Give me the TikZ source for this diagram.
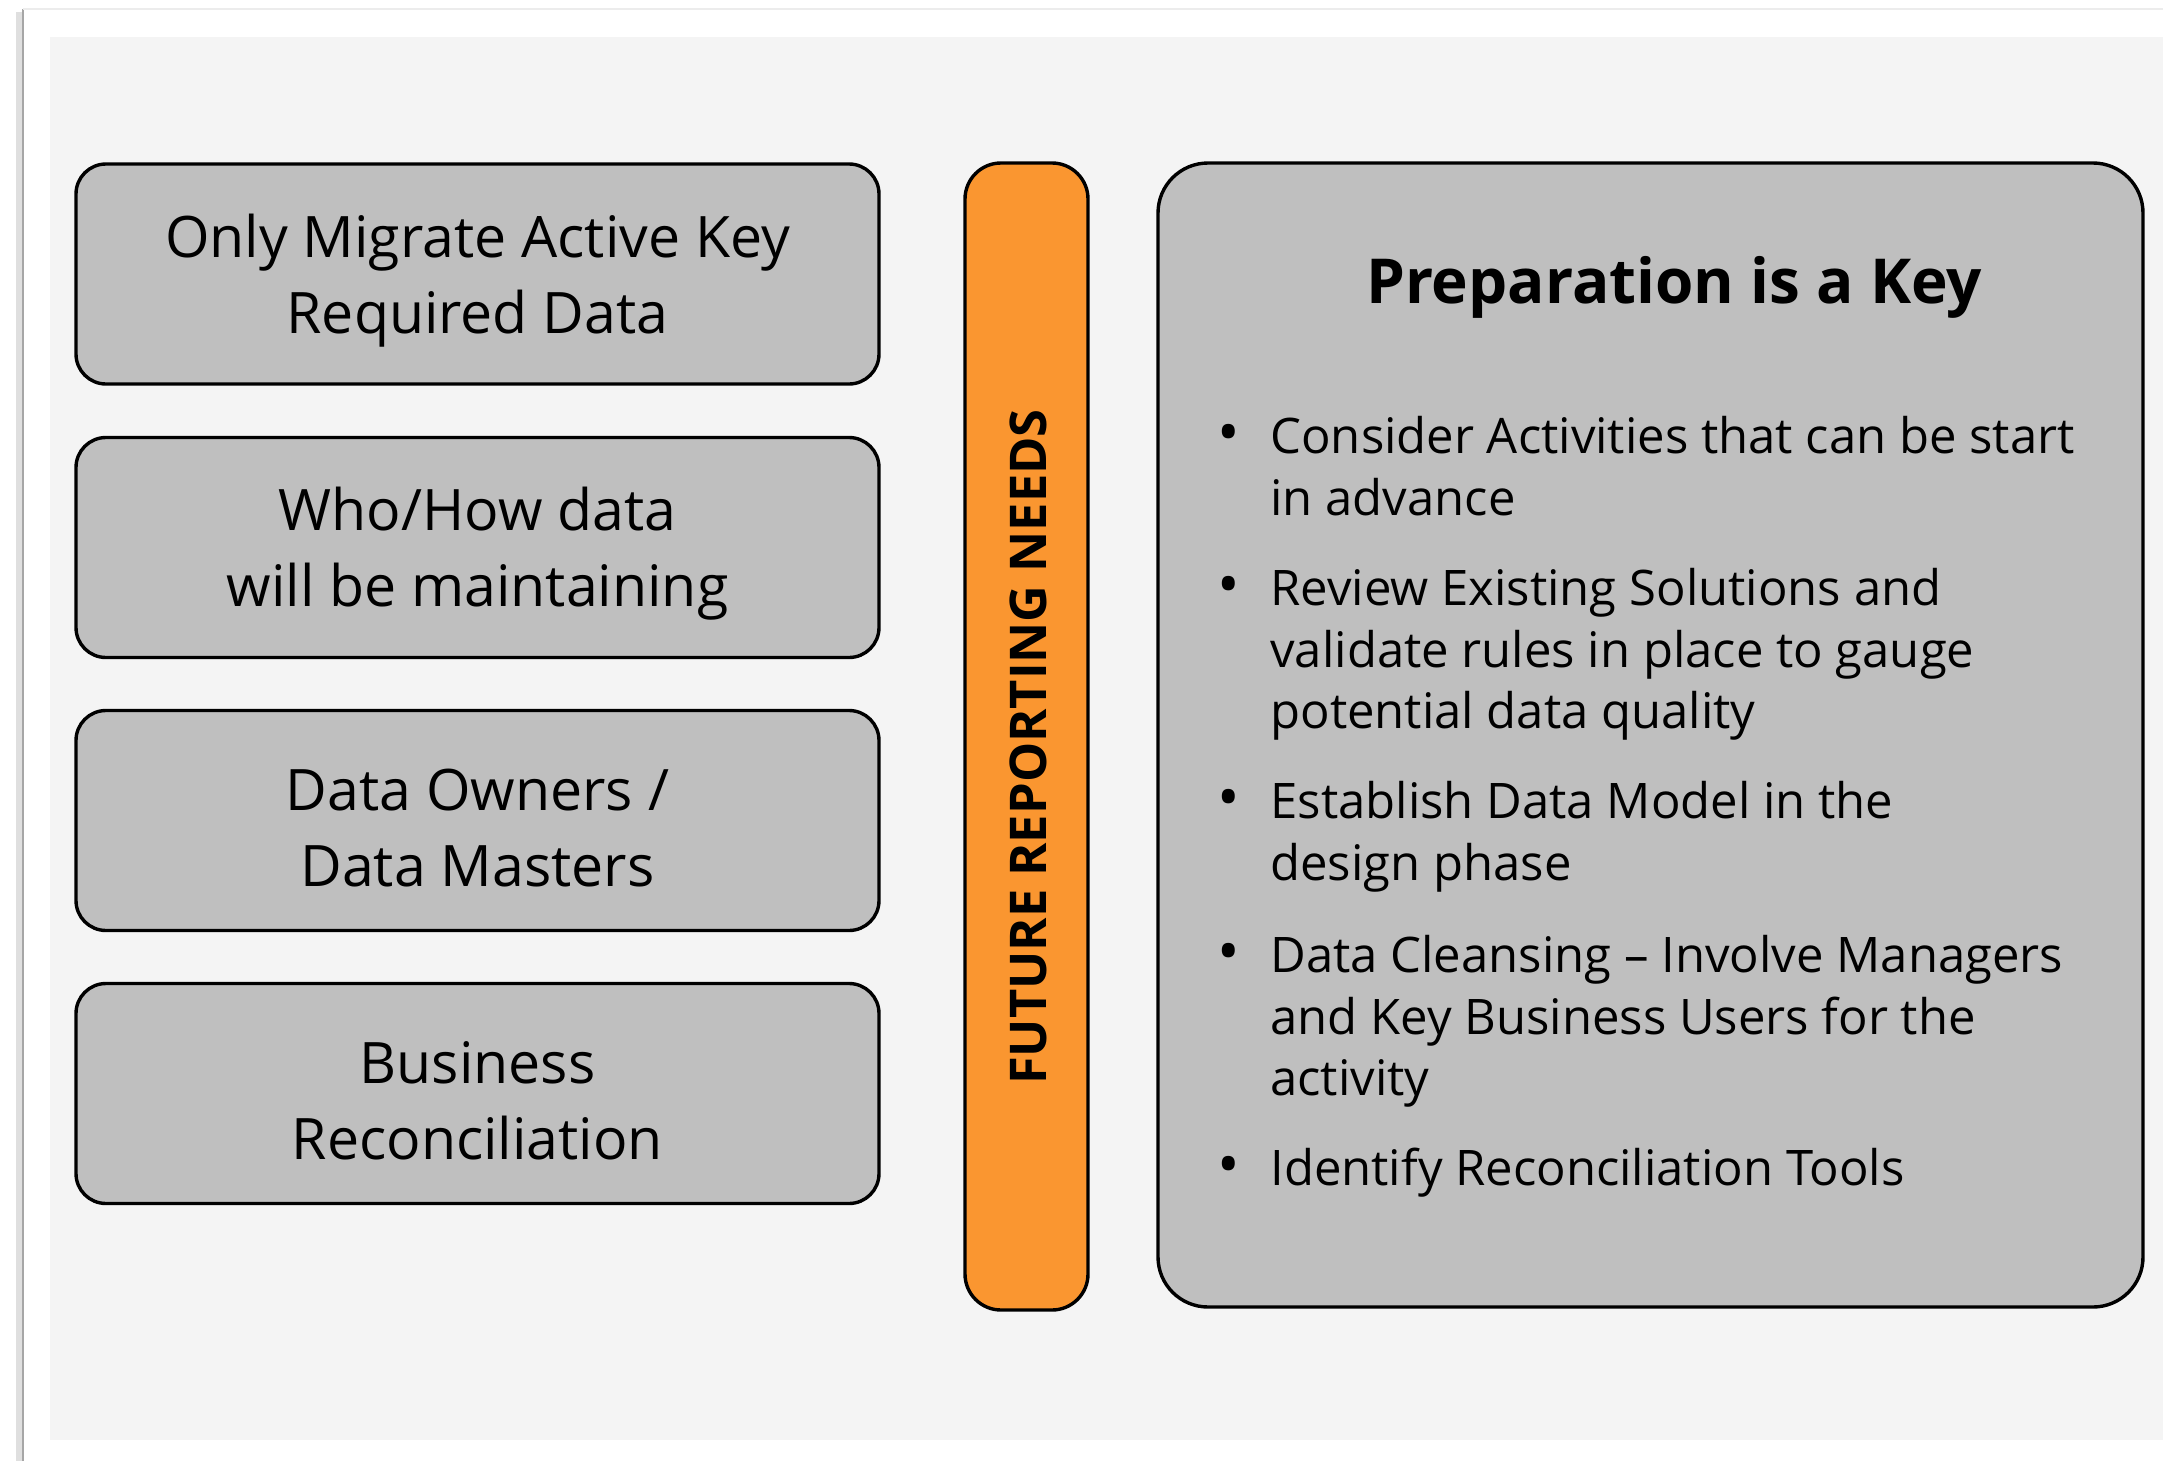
\documentclass[tikz,border=0pt]{standalone}
\usepackage{fontspec}
\setmainfont{Open Sans}
\usetikzlibrary{positioning}
\definecolor{boxgray}{RGB}{191,191,191}
\definecolor{pagebg}{RGB}{244,244,244}
\definecolor{barorange}{RGB}{250,150,48}

\tikzset{
  topicbox/.style={draw=black, line width=1.7pt, fill=boxgray, rounded corners=15pt,
    minimum width=401.5pt, minimum height=110pt, inner sep=0pt, align=center,
    font=\fontsize{28.6}{38}\selectfont},
  needsbar/.style={draw=black, line width=1.7pt, fill=barorange, rounded corners=18pt,
    minimum width=61.5pt, minimum height=573.5pt, inner sep=0pt},
  needstext/.style={inner sep=0pt, rotate=90, font=\bfseries\fontsize{25.3}{28}\selectfont},
  prepbox/.style={draw=black, line width=1.7pt, fill=boxgray, rounded corners=25pt,
    minimum width=492.5pt, minimum height=572pt, inner sep=0pt},
  preptitle/.style={inner sep=0pt, font=\bfseries\fontsize{31}{36}\selectfont},
  prepitem/.style={anchor=north west, inner sep=0pt, align=left,
    font=\fontsize{24.5}{30.7}\selectfont},
}
\newcommand{\itemdot}{\llap{{\fontsize{30}{30}\selectfont\textbullet}\hspace{15pt}}}
\newcommand{\lowerstrut}{\rule{0pt}{28pt}}

\begin{document}
\begin{tikzpicture}[x=0.5pt,y=0.5pt,yscale=-1,xscale=1]
\useasboundingbox (0,0) rectangle (2163,1461);

%Page frame
\fill[white] (0,0) rectangle (2163,1461);
\draw[gray!25, line width=3pt] (19,12) -- (19,1461);
\draw[gray!70, line width=1.2pt] (23,9) -- (23,1461);
\draw[gray!15, line width=1pt] (23,9) -- (2163,9);
\fill[pagebg] (50,37) rectangle (2163,1440);

%Rounded Rect
\node[topicbox] (migrate) at (477.5,274) {\lowerstrut Only Migrate Active Key\\Required Data};
%Rounded Rect
\node[topicbox] (maintain) at (477.5,547.5) {\lowerstrut Who/How data\\will be maintaining};
%Rounded Rect
\node[topicbox] (owners) at (477.5,820.5) {\lowerstrut Data Owners /\\Data Masters};
%Rounded Rect
\node[topicbox] (recon) at (477.5,1093.5) {\lowerstrut Business\\Reconciliation};

%Rounded Rect
\node[needsbar] (needs) at (1026.5,736.5) {};
% Text Node
\node[needstext] (needslabel) at (1028,747) {FUTURE REPORTING NEEDS};

%Rounded Rect
\node[prepbox] (prep) at (1650.5,735) {};

% Text Node
\node[preptitle] (title) at (1674,287) {Preparation is a Key};
% Text Node
\node[prepitem] (start) at (1270,416) {\itemdot Consider Activities that can be start\\in advance};
% Text Node
\node[prepitem] (review) at (1270,568) {\itemdot Review Existing Solutions and\\validate rules in place to gauge\\potential data quality};
% Text Node
\node[prepitem] (model) at (1270,781) {\itemdot Establish Data Model in the\\design phase};
% Text Node
\node[prepitem] (cleanse) at (1270,935) {\itemdot Data Cleansing -- Involve Managers\\and Key Business Users for the\\activity};
% Text Node
\node[prepitem] (tools) at (1270,1148) {\itemdot Identify Reconciliation Tools};
\end{tikzpicture}
\end{document}
